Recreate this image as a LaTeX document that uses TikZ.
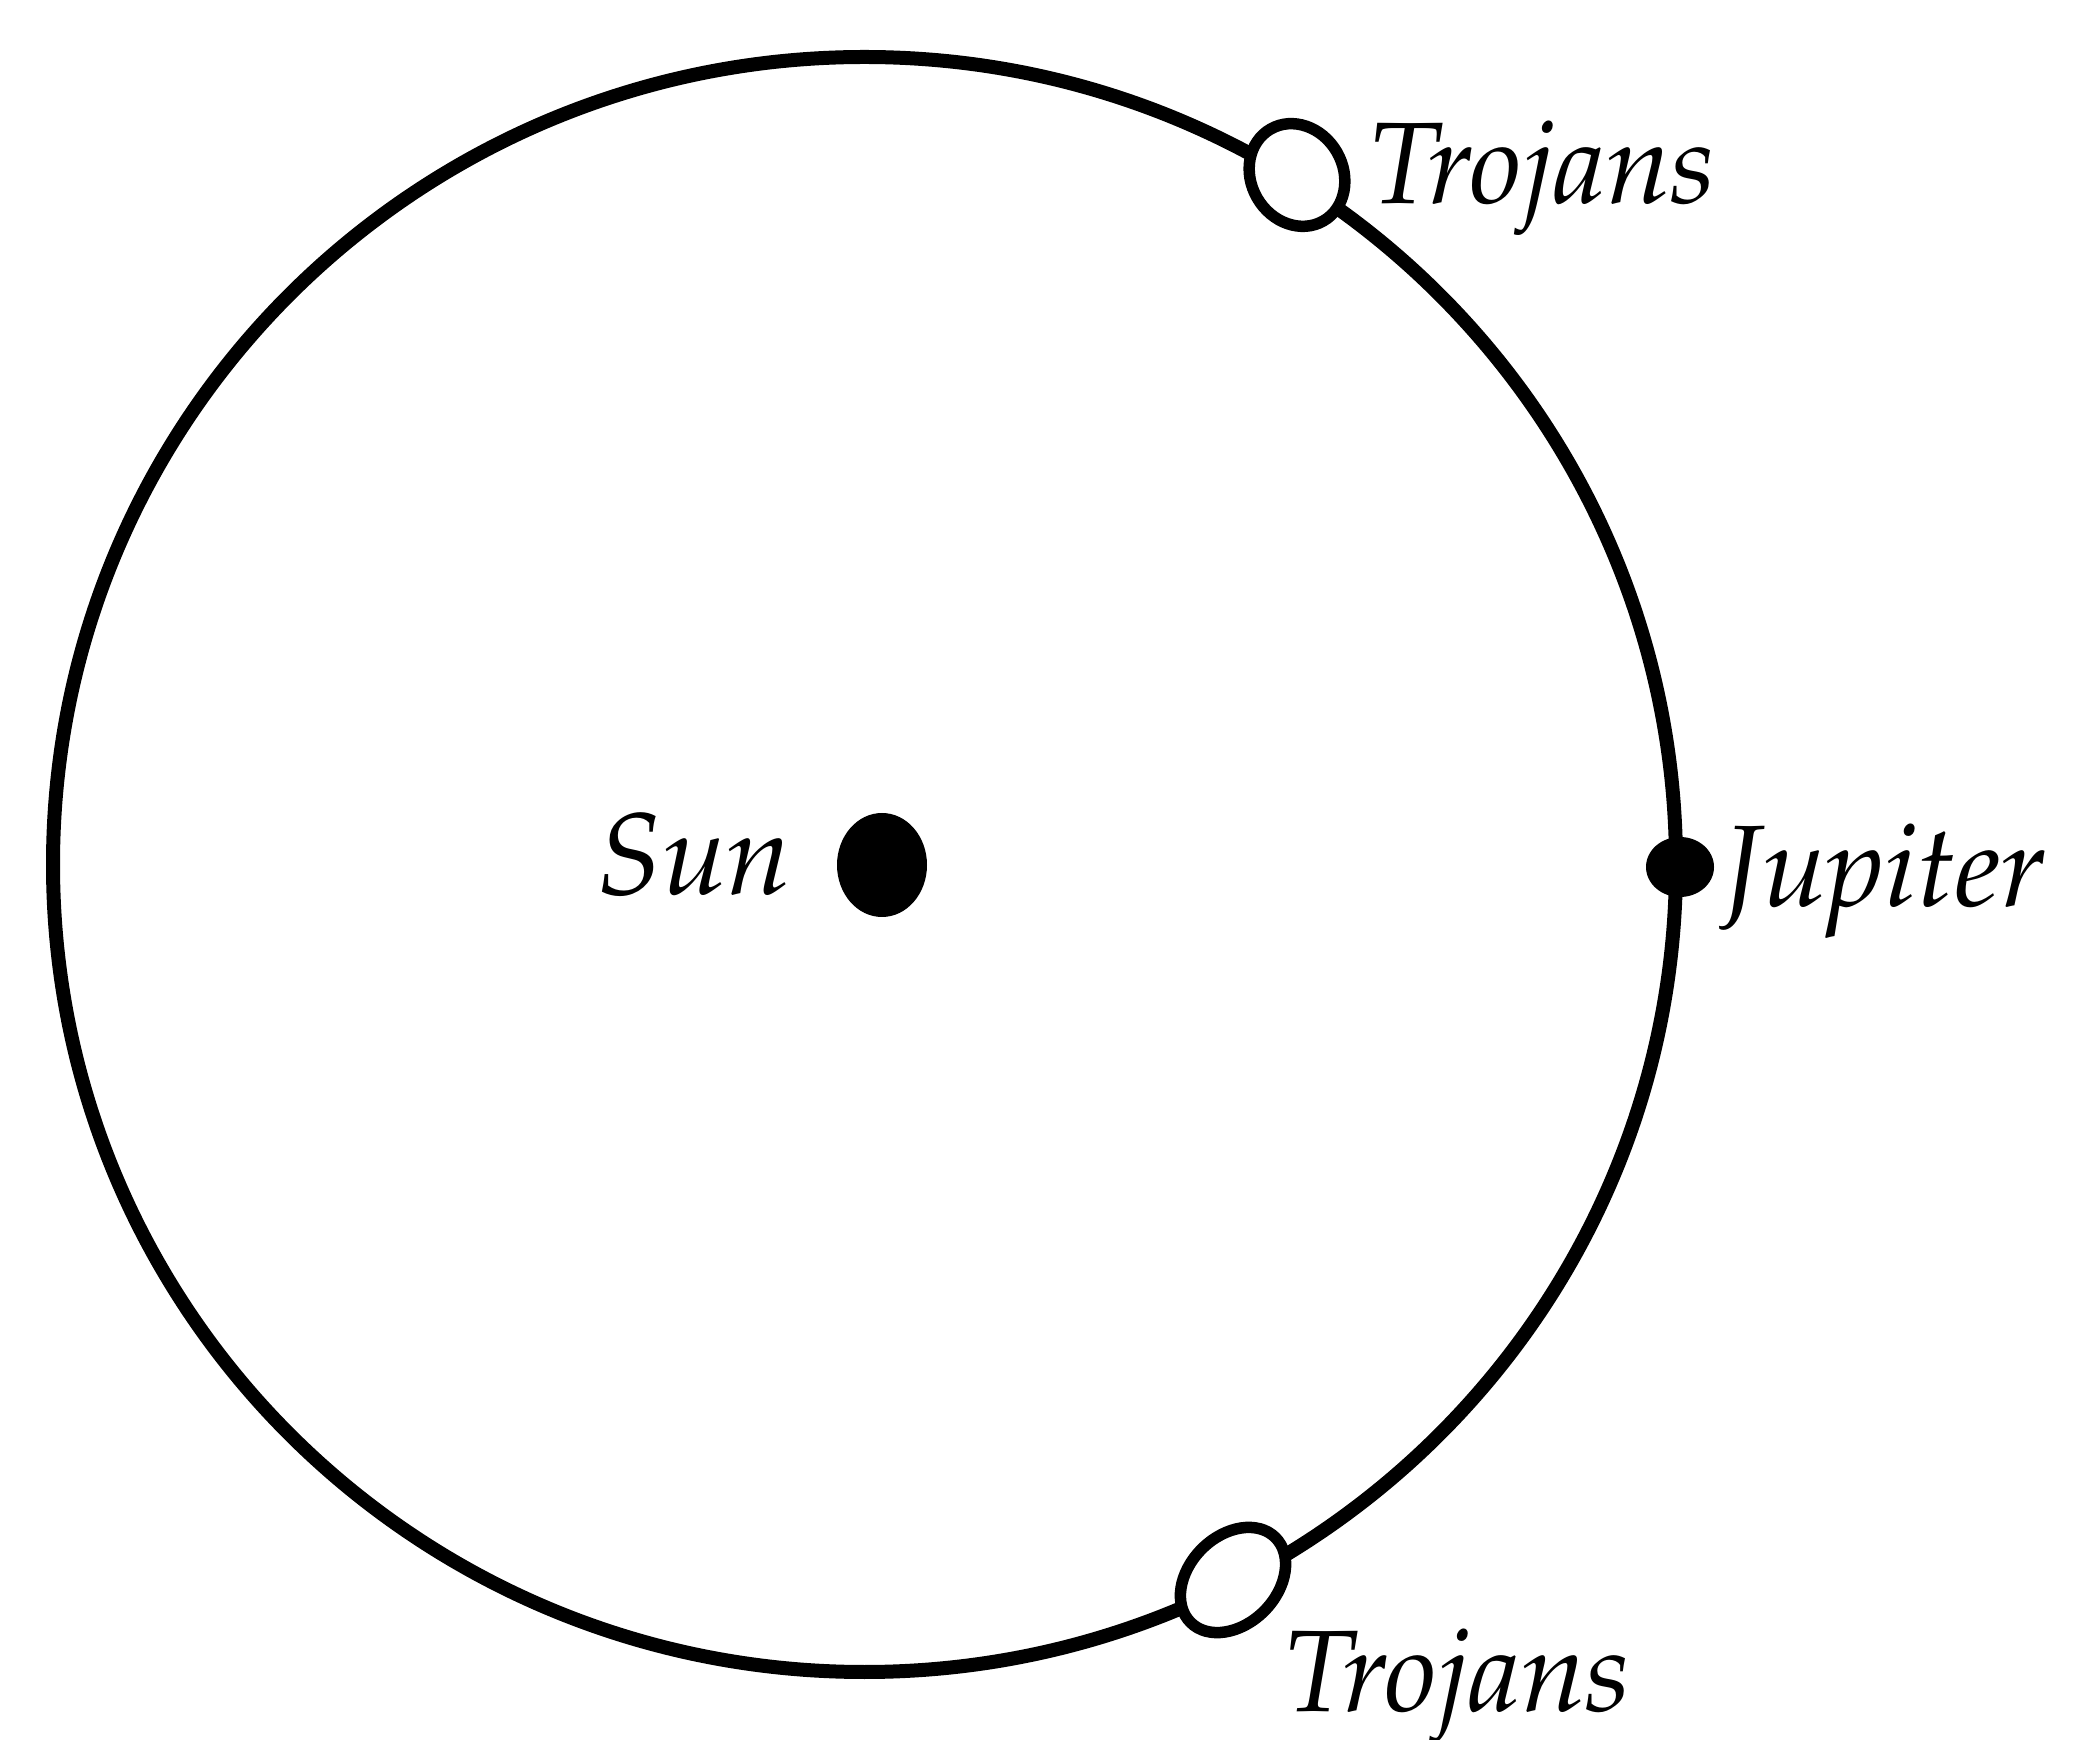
\documentclass[tikz,border=0pt]{standalone}
\usepackage[T1]{fontenc}
\usepackage{mathpazo}
\usetikzlibrary{shapes.geometric, positioning}

\begin{document}
\begin{tikzpicture}[x=0.1mm, y=-0.1mm,
    orbit/.style={draw, line width=1.4mm},
    trojan/.style={ellipse, draw, fill=white, line width=1.15mm, inner sep=0pt},
    body/.style={ellipse, fill=black, inner sep=0pt},
    lbl/.style={font=\fontsize{33}{40}\selectfont\itshape, inner sep=0pt}]
  \useasboundingbox (0,0) rectangle (2093,1740);
  \coordinate (orb) at (864.5,864.5);
  \draw[orbit] (orb) ellipse [x radius=811.5, y radius=807.5];

  \node[body, minimum width=9mm, minimum height=10.4mm] (sun) at (882,865) {};
  \node[body, minimum width=6.8mm, minimum height=6mm] (jup) at (1680,867) {};
  \node[trojan, minimum width=9.2mm, minimum height=10.6mm, rotate=30] (trojA) at (1297,175) {};
  \node[trojan, minimum width=8.8mm, minimum height=12mm, rotate=-45] (trojB) at (1233,1580) {};

  \node[lbl, anchor=base east] (sunlbl) at (792,895) {Sun};
  \node[lbl, anchor=base west] (juplbl) at (1723,907) {Jupiter};
  \node[lbl, anchor=base west] (trojAlbl) at (1369,204) {Trojans};
  \node[lbl, anchor=base west] (trojBlbl) at (1284,1711) {Trojans};
\end{tikzpicture}
\end{document}
